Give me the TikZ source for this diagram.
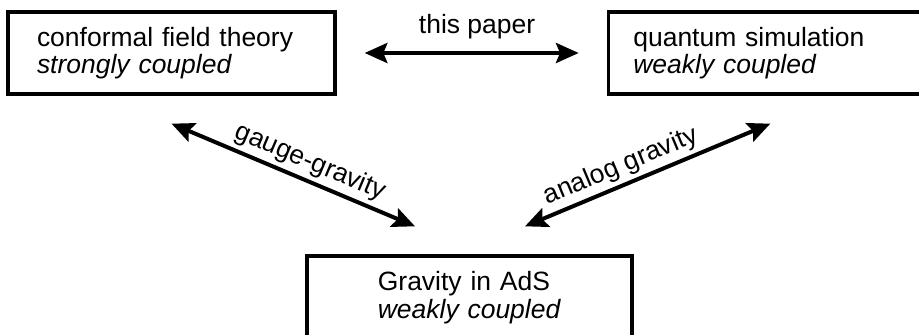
\documentclass[tikz,border=0pt]{standalone}
\usepackage{fontspec}
\setmainfont{Liberation Sans}
\usetikzlibrary{arrows.meta,positioning,calc}

\tikzset{
    frame/.style={rectangle, draw, line width=0.1cm, minimum height=2.46cm, align=left, inner ysep=0.1cm,
        font=\fontsize{22.6}{23.4}\selectfont},
    link/.style={{Stealth[length=0.68cm,width=0.6cm,inset=0.12cm]}-{Stealth[length=0.68cm,width=0.6cm,inset=0.12cm]}, line width=0.12cm},
    tag/.style={font=\fontsize{22.6}{23.4}\selectfont}
}

\begin{document}
\begin{tikzpicture}
    \useasboundingbox (0,0) rectangle (27.57,-10.05);

    % Boxes
    \node (lbox) [frame, inner xsep=0.87cm, text width=8.07cm] at (5.145,-1.59) {conformal field theory\\\textit{strongly coupled}};
    \node (rbox) [frame, inner xsep=0.75cm, text width=8.22cm, right=8.1cm of lbox] {quantum simulation\\\textit{weakly coupled}};
    \node (bbox) [frame, inner xsep=2.125cm, text width=5.5cm, minimum height=2.49cm] at (14.085,-8.925) {Gravity in AdS\\\textit{weakly coupled}};

    % Links
    \draw [link, shorten <=0.84cm, shorten >=0.84cm] (lbox.east) -- node [tag, pos=0.52, above=0.25cm] {this paper} (rbox.west);
    \draw [link] ($(lbox.south)+(0,-0.84)$) -- node [tag, pos=0.54, sloped, above] {gauge-gravity} ($(bbox.north)+(-1.635,0.84)$);
    \draw [link] ($(bbox.north)+(1.665,0.84)$) -- node [tag, pos=0.42, sloped, above] {analog gravity} ($(rbox.south)+(0,-0.84)$);
\end{tikzpicture}
\end{document}
